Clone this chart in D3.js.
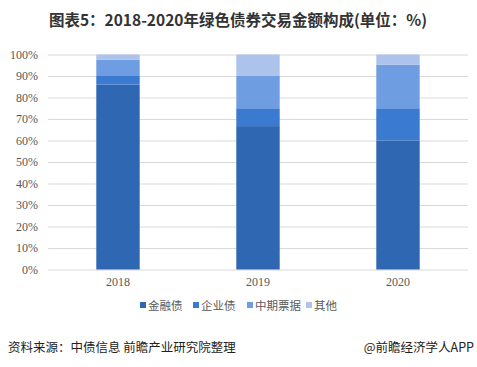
<!DOCTYPE html>
<html><head><meta charset="utf-8">
<script src="https://cdn.jsdelivr.net/npm/d3@7"></script>
<style>body{margin:0;background:#fff;}svg{display:block;}</style>
</head><body>
<svg id="c" width="477" height="367"></svg>
<script>
const years = ["2018", "2019", "2020"];
const seriesNames = ["金融债", "企业债", "中期票据", "其他"];
const financial = [86, 66.7, 60];
const enterprise = [4, 8.3, 15];
const mtn = [7.5, 15, 20.2];
const other = [2.5, 10, 4.8];
const yTicks = [0, 10, 20, 30, 40, 50, 60, 70, 80, 90, 100];
const colors = ["#3067b3", "#3a7ad0", "#6f9de2", "#adc3ec"];

const svg = d3.select("#c");
const x = d3.scaleBand().domain(years).range([48, 468]).paddingInner(0.69).paddingOuter(0.345);
const y = d3.scaleLinear().domain([0, 100]).range([269.5, 54.5]);

svg.append("text").attr("x", 238).attr("y", 26).attr("text-anchor", "middle")
  .attr("font-family", "Noto Sans CJK SC, sans-serif").attr("font-weight", "bold")
  .attr("font-size", 15.5).attr("fill", "#333").text("图表5：2018-2020年绿色债券交易金额构成(单位：%)");

// grid
const ga = svg.append("g").attr("transform", "translate(48,0)")
  .call(d3.axisLeft(y).tickValues(yTicks).tickSize(-420).tickFormat(d => d + "%"));
ga.select(".domain").remove();
ga.selectAll(".tick line").attr("stroke", "#d9d9d9");
ga.selectAll(".tick text").attr("x", -10).attr("fill", "#595959")
  .attr("font-family", "Liberation Serif, serif").attr("font-size", 12);

const data = years.map((yr, i) => ({year: yr, s0: financial[i], s1: enterprise[i], s2: mtn[i], s3: other[i]}));
const stack = d3.stack().keys(["s0", "s1", "s2", "s3"])(data);
svg.append("g").selectAll("g").data(stack).join("g").attr("fill", (d, i) => colors[i])
  .selectAll("rect").data(d => d).join("rect")
  .attr("x", d => x(d.data.year)).attr("width", x.bandwidth())
  .attr("y", d => y(d[1])).attr("height", d => y(d[0]) - y(d[1]));

const xa = svg.append("g").attr("transform", "translate(0,269.5)")
  .call(d3.axisBottom(x).tickSize(0));
xa.select(".domain").remove();
xa.selectAll(".tick text").attr("dy", "1.15em").attr("fill", "#595959")
  .attr("font-family", "Liberation Serif, serif").attr("font-size", 12);

// legend
const legX = [140, 193, 247, 306];
const lg = svg.append("g");
seriesNames.forEach((n, i) => {
  lg.append("rect").attr("x", legX[i]).attr("y", 302).attr("width", 6).attr("height", 6).attr("fill", colors[i]);
  lg.append("text").attr("x", legX[i] + 8).attr("y", 309.5).attr("font-family", "Noto Sans CJK SC, sans-serif")
    .attr("font-size", 11.5).attr("fill", "#595959").text(n);
});

svg.append("text").attr("x", 8).attr("y", 352).attr("font-family", "Noto Sans CJK SC, sans-serif")
  .attr("font-size", 12.5).attr("fill", "#222").text("资料来源：中债信息 前瞻产业研究院整理");
svg.append("text").attr("x", 474).attr("y", 352).attr("text-anchor", "end").attr("font-family", "Noto Sans CJK SC, sans-serif")
  .attr("font-size", 12.5).attr("fill", "#222").text("@前瞻经济学人APP");
</script>
</body></html>
